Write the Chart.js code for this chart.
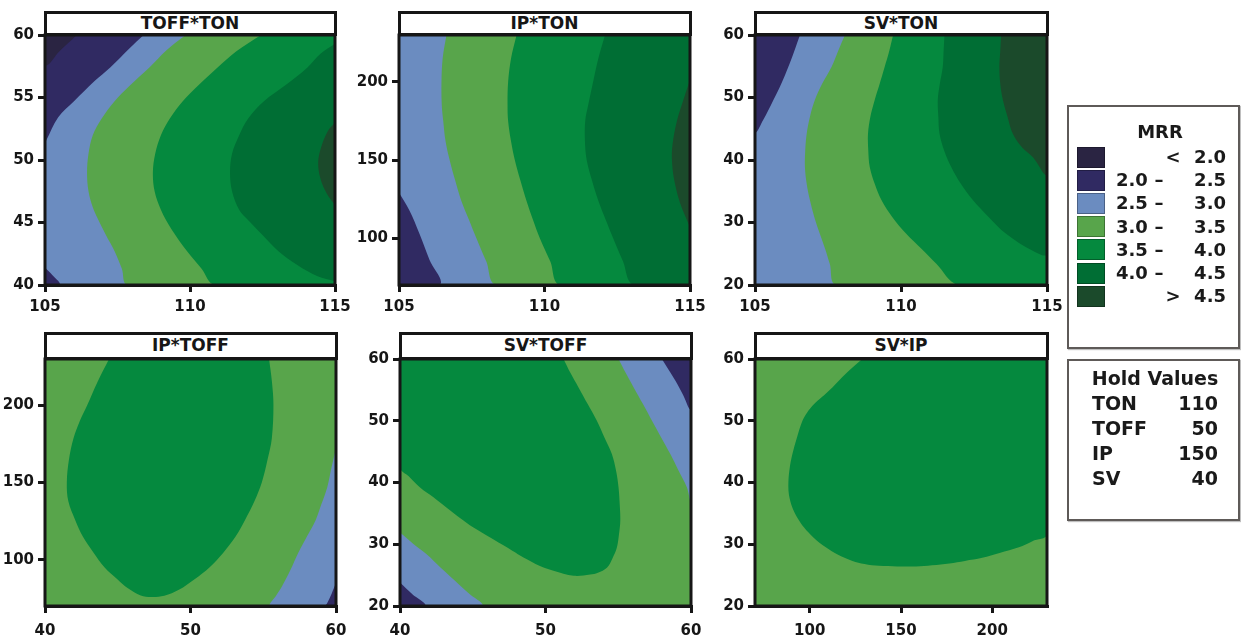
<!DOCTYPE html>
<html>
<head>
<meta charset="utf-8">
<title>MRR contour plots</title>
<script src="https://cdn.jsdelivr.net/npm/chart.js@4.4.1/dist/chart.umd.min.js"></script>
<style>
  html, body { margin: 0; padding: 0; background: #fff; }
  body { width: 1241px; height: 636px; position: relative; overflow: hidden;
         font-family: 'DejaVu Sans', 'Noto Sans', sans-serif; color: #1a1a1a; }
  canvas.panel { position: absolute; }
  .title-bar { position: absolute; box-sizing: border-box; border: 3px solid #161616; background: #fff;
               font-weight: bold; font-size: 17px; text-align: center; color: #161616; }
  .box { position: absolute; box-sizing: border-box; border: 2px solid #5e5a58; background: #fff;
         box-shadow: 1px 1px 1px rgba(0,0,0,0.25); }
  .lg { position: absolute; font-weight: bold; font-size: 18px; line-height: 20px; white-space: nowrap; color: #1a1a1a; }
  .lg.big { font-size: 19px; }
  .sw { position: absolute; box-sizing: border-box; width: 28px; height: 21px; border: 1px solid rgba(0,0,0,0.3); }
</style>
</head>
<body>
<script>
// ---- axis ranges and tick labels ----
const tonRange = [105, 115];
const toffRange = [40, 60];
const ipRange = [70, 230];
const svRange = [20, 60];
const tonTicks = [105, 110, 115];
const toffTicks = [40, 45, 50, 55, 60];
const toffTicksX = [40, 50, 60];
const ipTicks = [100, 150, 200];
const svTicks = [20, 30, 40, 50, 60];

// ---- MRR bands ----
const levelLo = ['', '2.0', '2.5', '3.0', '3.5', '4.0', ''];
const levelHi = ['2.0', '2.5', '3.0', '3.5', '4.0', '4.5', '4.5'];
const levelSym = ['<', '', '', '', '', '', '>'];
const levelColors = ['#2a2442', '#302a62', '#6b8cc0', '#58a54b', '#05893e', '#006e34', '#1b4a2b'];

// ---- hold values ----
const holdNames = ['TON', 'TOFF', 'IP', 'SV'];
const holdValues = [110, 50, 150, 40];

// ---- contour lines, [x, y] in data units ----
// TOFF*TON  (x = TON, y = TOFF)
const toffTon20Top = [[106.1, 60], [105.5, 58.7], [105, 57.6]];
const toffTon25Top = [[108.4, 60], [107.9, 58.9], [107.25, 57.4], [106.7, 56.3], [106.0, 54.7], [105.45, 53.4], [105.05, 51.6], [105, 51.4]];
const toffTon25Bot = [[105, 41.4], [105.25, 40.8], [105.5, 40]];
const toffTon30 = [[109.85, 60], [109.2, 58.8], [108.6, 57.4], [107.9, 55.9], [107.4, 54.7], [106.95, 53.3], [106.65, 52.0], [106.5, 50.5], [106.45, 49.0], [106.5, 47.5], [106.65, 46.2], [106.8, 45.4], [107.1, 44.0], [107.4, 42.7], [107.65, 41.3], [107.85, 40]];
const toffTon35 = [[112.45, 60], [111.6, 58.7], [110.95, 57.4], [110.3, 56.0], [109.75, 54.7], [109.3, 53.3], [109.0, 52.0], [108.8, 50.5], [108.72, 49.0], [108.78, 47.5], [109.0, 46.0], [109.35, 44.5], [109.9, 42.7], [110.4, 41.3], [110.85, 40]];
const toffTon40 = [[115, 59.3], [114.5, 58.5], [114.05, 57.4], [113.3, 56.0], [112.55, 54.7], [112.0, 53.3], [111.7, 52.0], [111.45, 50.5], [111.38, 49.0], [111.45, 47.5], [111.7, 46.0], [112.0, 45.2], [112.5, 44.0], [113.05, 42.7], [113.7, 41.6], [114.4, 40.7], [115, 40.3]];
const toffTon45 = [[115, 53.0], [114.75, 52.3], [114.52, 51.0], [114.42, 49.8], [114.5, 48.5], [114.72, 47.3], [115, 46.4]];

// IP*TON  (x = TON, y = IP)
const ipTon25 = [[105, 129], [105.35, 118], [105.7, 103], [106.05, 86], [106.4, 70]];
const ipTon30 = [[106.63, 230], [106.5, 215], [106.46, 200], [106.47, 185], [106.52, 175], [106.6, 162], [106.74, 150], [106.93, 137], [107.14, 124], [107.4, 112], [107.66, 100], [108.0, 85], [108.35, 70]];
const ipTon35 = [[109.04, 230], [108.85, 215], [108.75, 200], [108.73, 185], [108.75, 175], [108.85, 162], [108.98, 150], [109.17, 137], [109.38, 124], [109.6, 112], [109.84, 100], [110.2, 85], [110.53, 70]];
const ipTon40 = [[112.08, 230], [111.85, 215], [111.67, 200], [111.5, 185], [111.4, 175], [111.39, 162], [111.45, 150], [111.63, 137], [111.85, 124], [112.1, 112], [112.36, 100], [112.7, 85], [113.05, 70]];
const ipTon45 = [[115, 201], [114.8, 190], [114.55, 175], [114.4, 160], [114.38, 150], [114.45, 138], [114.65, 123], [115, 107]];

// SV*TON  (x = TON, y = SV)
const svTon25 = [[106.54, 60], [106.35, 57.5], [106.14, 54.9], [105.9, 52.2], [105.63, 49.6], [105.28, 46.4], [105, 44.5]];
const svTon30 = [[108.08, 60], [107.85, 57.5], [107.62, 54.9], [107.3, 52.2], [107.05, 49.6], [106.88, 46.9], [106.77, 44.2], [106.72, 41.5], [106.71, 38.9], [106.77, 36.2], [106.88, 33.6], [107.03, 30.9], [107.22, 28.2], [107.4, 25.8], [107.56, 23.4], [107.79, 20]];
const svTon35 = [[109.73, 60], [109.6, 57.5], [109.44, 54.9], [109.27, 52.2], [109.1, 49.6], [108.95, 46.9], [108.87, 44.2], [108.88, 41.5], [108.93, 38.9], [109.1, 36.2], [109.33, 33.6], [109.7, 30.9], [110.18, 28.2], [110.7, 25.8], [111.21, 23.4], [111.95, 20]];
const svTon40 = [[111.49, 60], [111.46, 57.5], [111.43, 54.9], [111.33, 52.2], [111.26, 49.6], [111.28, 46.9], [111.32, 44.2], [111.48, 41.5], [111.72, 38.9], [112.05, 36.2], [112.46, 33.6], [113.0, 30.9], [113.6, 28.2], [114.51, 25.5], [115, 25.0]];
const svTon45 = [[113.43, 60], [113.4, 57.5], [113.37, 54.9], [113.4, 52.2], [113.49, 49.6], [113.65, 46.9], [113.83, 44.2], [114.15, 42.0], [114.51, 40.5], [115, 37.8]];

// IP*TOFF  (x = TOFF, y = IP)
const ipToff35 = [[44.4, 230], [43.6, 215], [42.9, 200], [42.4, 190], [41.96, 178.7], [41.65, 165], [41.5, 150], [41.6, 138], [42.08, 125.6], [42.6, 115], [43.35, 104.4], [44.1, 95], [44.97, 87.4], [45.7, 81.5], [46.58, 76.8], [47.3, 75.8], [48.2, 76.6], [49.2, 80.5], [50.28, 87.4], [51.3, 95], [52.24, 104.4], [53.1, 115], [53.74, 125.6], [54.4, 138], [54.9, 150], [55.3, 165], [55.59, 178.7], [55.7, 200], [55.6, 215], [55.4, 230]];
const ipToff30 = [[60, 172], [59.7, 160], [59.4, 147], [59.0, 136], [58.6, 125.6], [58.0, 115], [57.4, 104.4], [56.85, 93], [56.3, 83], [55.9, 77], [55.5, 70]];
const ipToff25 = [[60, 85], [59.7, 78], [59.4, 72], [59.3, 70]];

// SV*TOFF  (x = TOFF, y = SV)
const svToff35 = [[51.24, 60], [51.7, 57.8], [52.27, 55.4], [52.9, 52.7], [53.53, 50], [54.05, 47.3], [54.56, 44.6], [54.85, 41.9], [55.02, 39.2], [55.1, 36.5], [55.14, 33.8], [55.05, 31.6], [54.91, 29.5], [54.6, 27.7], [54.22, 26.2], [53.6, 25.4], [53.07, 25.1], [51.93, 24.9], [50.55, 25.7], [49.7, 26.4], [48.94, 27.3], [48.1, 28.4], [47.34, 29.5], [46.2, 31.1], [45.05, 32.7], [44.1, 34.3], [43.21, 35.9], [42.3, 37.6], [41.38, 39.2], [40.6, 41.0], [40, 42.4]];
const svToff30Top = [[55.02, 60], [55.5, 57.8], [56.06, 55.4], [56.7, 52.7], [57.32, 50], [57.95, 47.3], [58.58, 44.6], [59.15, 41.9], [59.72, 39.2], [60, 37.0]];
const svToff25Top = [[58.0, 60], [58.45, 58.3], [58.92, 56.5], [59.45, 54.2], [60, 51.9]];
const svToff30Bot = [[40, 31.9], [40.9, 30.1], [41.83, 28.4], [42.8, 26.2], [43.78, 24.1], [44.7, 22.1], [45.62, 20]];
const svToff25Bot = [[40, 23.8], [40.85, 21.9], [41.72, 20]];

// SV*IP  (x = IP, y = SV)
const svIp35 = [[128.8, 60], [120, 57.7], [112.4, 55.4], [106.5, 53.8], [102.4, 52.7], [98.5, 51.3], [96, 50], [93, 47.3], [90.5, 44.6], [89, 42.3], [88.3, 40], [88.6, 38], [90.5, 35.9], [93.2, 34.3], [96.9, 32.7], [102, 31.1], [108.8, 29.5], [115.5, 28.3], [123.4, 27.3], [130, 26.8], [138, 26.5], [148, 26.4], [158.2, 26.4], [167, 26.6], [176.5, 26.9], [185, 27.3], [194.5, 27.8], [204, 28.6], [214.6, 29.5], [222, 30.5], [230, 31.6]];

// ---- panels: base band plus the pockets painted over it, in paint order ----
const panels = [
  { title: 'TOFF*TON', xr: tonRange, yr: toffRange, xt: tonTicks, yt: toffTicks, base: 2, row: 0,
    pockets: [[toffTon25Top, ['tl'], 1], [toffTon20Top, ['tl'], 0], [toffTon25Bot, ['bl'], 1],
              [toffTon30, ['br', 'tr'], 3], [toffTon35, ['br', 'tr'], 4], [toffTon40, [], 5], [toffTon45, [], 6]] },
  { title: 'IP*TON', xr: tonRange, yr: ipRange, xt: tonTicks, yt: ipTicks, base: 2, row: 0,
    pockets: [[ipTon25, ['bl'], 1], [ipTon30, ['br', 'tr'], 3], [ipTon35, ['br', 'tr'], 4],
              [ipTon40, ['br', 'tr'], 5], [ipTon45, [], 6]] },
  { title: 'SV*TON', xr: tonRange, yr: svRange, xt: tonTicks, yt: svTicks, base: 2, row: 0,
    pockets: [[svTon25, ['tl'], 1], [svTon30, ['br', 'tr'], 3], [svTon35, ['br', 'tr'], 4],
              [svTon40, ['tr'], 5], [svTon45, ['tr'], 6]] },
  { title: 'IP*TOFF', xr: toffRange, yr: ipRange, xt: toffTicksX, yt: ipTicks, base: 3, row: 1,
    pockets: [[ipToff35, [], 4], [ipToff30, ['br'], 2], [ipToff25, ['br'], 1]] },
  { title: 'SV*TOFF', xr: toffRange, yr: svRange, xt: toffTicksX, yt: svTicks, base: 3, row: 1,
    pockets: [[svToff35, ['tl'], 4], [svToff30Top, ['tr'], 2], [svToff25Top, ['tr'], 1],
              [svToff30Bot, ['bl'], 2], [svToff25Bot, ['bl'], 1]] },
  { title: 'SV*IP', xr: ipRange, yr: svRange, xt: ipTicks, yt: svTicks, base: 3, row: 1,
    pockets: [[svIp35, ['tr'], 4]] }
];

// ---- page layout (plot rectangles: left, top, right, bottom) ----
const plotRects = [
  [45, 34, 335, 285], [399, 34, 690, 285], [755, 34, 1047, 285],
  [45, 358, 336, 606], [400, 358, 691, 606], [755, 358, 1047, 606]
];
const titleTops = [11, 332];
const xLabelPad = [6, 9];
const LEFT_W = 48, PAD_T = 12, PAD_R = 26, BOTTOM_H = 40;
const CORNER_OUT = 0.06;   // closing corners sit just outside the plot so the smoothed fill is clipped cleanly
const INK = '#161616';
const FONT = "'DejaVu Sans', 'Noto Sans', sans-serif";

const framePlugin = {
  id: 'panelFrame',
  afterDraw(chart) {
    const a = chart.chartArea, ctx = chart.ctx;
    ctx.save();
    ctx.strokeStyle = INK;
    ctx.lineWidth = 3;
    ctx.strokeRect(a.left, a.top, a.right - a.left, a.bottom - a.top);
    ctx.restore();
  }
};

function cornerPoint(p, name) {
  const dx = (p.xr[1] - p.xr[0]) * CORNER_OUT, dy = (p.yr[1] - p.yr[0]) * CORNER_OUT;
  const x = name[1] === 'l' ? p.xr[0] - dx : p.xr[1] + dx;
  const y = name[0] === 'b' ? p.yr[0] - dy : p.yr[1] + dy;
  return [x, y];
}

function axisOptions(range, ticks, horizontal, pad) {
  return {
    type: 'linear',
    min: range[0],
    max: range[1],
    afterBuildTicks: s => { s.ticks = ticks.map(v => ({ value: v })); },
    afterFit: s => { if (horizontal) s.height = BOTTOM_H; else s.width = LEFT_W; },
    grid: { drawOnChartArea: false, drawTicks: true, tickLength: 7, color: INK, lineWidth: 3 },
    border: { display: true, color: INK, width: 3 },
    ticks: { color: INK, padding: pad, autoSkip: false, maxRotation: 0,
             font: { family: FONT, size: 15, weight: 'bold' } }
  };
}

panels.forEach((p, idx) => {
  const r = plotRects[idx];
  const w = LEFT_W + (r[2] - r[0]) + PAD_R;
  const h = PAD_T + (r[3] - r[1]) + BOTTOM_H;
  const canvas = document.createElement('canvas');
  canvas.className = 'panel';
  canvas.width = w; canvas.height = h;
  canvas.style.left = (r[0] - LEFT_W) + 'px';
  canvas.style.top = (r[1] - PAD_T) + 'px';
  canvas.style.width = w + 'px';
  canvas.style.height = h + 'px';
  document.body.appendChild(canvas);

  const layers = [{ pts: ['bl', 'br', 'tr', 'tl'].map(c => cornerPoint(p, c)), level: p.base, smooth: 0 }]
    .concat(p.pockets.map(([curve, close, level]) => ({
      pts: curve.concat(close.map(c => cornerPoint(p, c))), level, smooth: 0.35 })));

  const datasets = layers.map((L, i) => ({
    data: L.pts.map(([x, y]) => ({ x, y })),
    fill: 'shape',
    backgroundColor: levelColors[L.level],
    borderColor: levelColors[L.level],
    borderWidth: 0,
    pointRadius: 0,
    pointHoverRadius: 0,
    tension: L.smooth,
    capBezierPoints: false,
    order: layers.length - i
  }));

  new Chart(canvas, {
    type: 'line',
    data: { datasets },
    options: {
      responsive: false,
      devicePixelRatio: 1,
      animation: false,
      events: [],
      layout: { padding: { left: 0, top: PAD_T, right: PAD_R, bottom: 0 } },
      plugins: { legend: { display: false }, tooltip: { enabled: false }, title: { display: false } },
      scales: {
        x: axisOptions(p.xr, p.xt, true, xLabelPad[p.row]),
        y: axisOptions(p.yr, p.yt, false, 4)
      }
    },
    plugins: [framePlugin]
  });

  const t = document.createElement('div');
  t.className = 'title-bar';
  const top = titleTops[p.row];
  t.style.left = (r[0] - 1.5) + 'px';
  t.style.top = top + 'px';
  t.style.width = (r[2] - r[0] + 3) + 'px';
  t.style.height = (r[1] + 1.5 - top) + 'px';
  t.style.lineHeight = (r[1] + 1.5 - top - 6) + 'px';
  t.textContent = p.title;
  document.body.appendChild(t);
});

// ---- legend boxes ----
function addText(txt, left, top, align, cls) {
  const d = document.createElement('div');
  d.className = 'lg' + (cls ? ' ' + cls : '');
  d.textContent = txt;
  if (align === 'right') { d.style.right = (1241 - left) + 'px'; }
  else if (align === 'center') { d.style.left = (left - 100) + 'px'; d.style.width = '200px'; d.style.textAlign = 'center'; }
  else { d.style.left = left + 'px'; }
  d.style.top = (top - 10) + 'px';
  document.body.appendChild(d);
}
function addBox(left, top, right, bottom) {
  const b = document.createElement('div');
  b.className = 'box';
  b.style.left = left + 'px'; b.style.top = top + 'px';
  b.style.width = (right - left) + 'px'; b.style.height = (bottom - top) + 'px';
  document.body.appendChild(b);
}

addBox(1067, 105, 1240, 349);
addText('MRR', 1160, 132, 'center');
levelColors.forEach((col, i) => {
  const cy = 157 + i * 23.2;
  const s = document.createElement('div');
  s.className = 'sw';
  s.style.background = col;
  s.style.left = '1077px';
  s.style.top = (cy - 10.5) + 'px';
  document.body.appendChild(s);
  if (levelLo[i]) { addText(levelLo[i], 1116, cy, 'left'); addText('\u2013', 1159, cy, 'center'); }
  if (levelSym[i]) addText(levelSym[i], 1173, cy, 'center');
  addText(levelHi[i], 1226, cy, 'right');
});

addBox(1067, 359, 1240, 521);
addText('Hold Values', 1155, 378, 'center', 'big');
holdNames.forEach((n, i) => {
  const cy = 403 + i * 25;
  addText(n, 1092, cy, 'left', 'big');
  addText(String(holdValues[i]), 1218, cy, 'right', 'big');
});
</script>
</body>
</html>
